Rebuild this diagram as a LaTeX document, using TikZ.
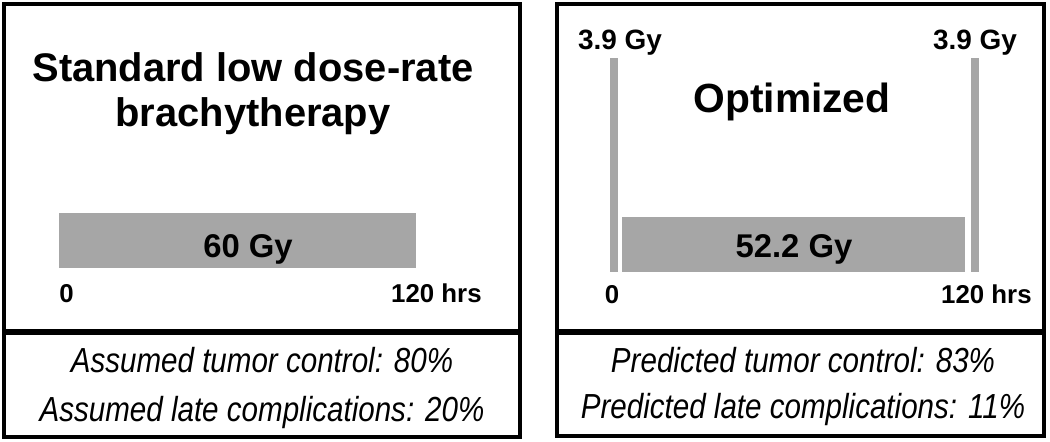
\documentclass[tikz,border=0pt]{standalone}
\usepackage{fontspec}
\setmainfont{Liberation Sans}
\newfontfamily\condfont{Liberation Sans}[FakeStretch=0.85]
\definecolor{DoseGrey}{RGB}{166,166,166}

\begin{document}
\begin{tikzpicture}[x=0.02cm, y=-0.02cm,
    panel/.style={draw, line width=0.08cm},
    dosebar/.style={fill=DoseGrey},
    label/.style={anchor=base, inner sep=0pt},
    title/.style={label, font=\fontsize{22.7}{27}\selectfont\bfseries},
    dose/.style={label, font=\fontsize{18.7}{22}\selectfont\bfseries},
    boost/.style={label, font=\fontsize{15.9}{19}\selectfont\bfseries},
    axis/.style={label, font=\fontsize{14.7}{18}\selectfont\bfseries},
    outcome/.style={label, font=\fontsize{19.8}{23}\condfont\itshape}]
                \useasboundingbox (0,0) rectangle (1050,442);

                % Panels
                \draw[panel] (4,4) rectangle (520,331);
                \draw[panel] (4,333) rectangle (520,437);
                \draw[panel] (557,4) rectangle (1044,331);
                \draw[panel] (557,333) rectangle (1044,436);

                % Dose bars
                \fill[dosebar] (59,213) rectangle (416,268);
                \fill[dosebar] (622,217) rectangle (965,272);
                \fill[dosebar] (610,58) rectangle (618,272);
                \fill[dosebar] (971,58) rectangle (979,272);

                % Standard schedule
                \node[title] (std1) at (253,82) {Standard low dose-rate};
                \node[title] (std2) at (253,127) {brachytherapy};
                \node[dose] (dose60) at (248,257) {60 Gy};
                \node[axis, anchor=base west] (start1) at (59,302) {0};
                \node[axis, anchor=base east] (end1) at (482,302) {120 hrs};
                \node[outcome] (tumor1) at (262,372) {Assumed tumor control: 80\%};
                \node[outcome] (late1) at (262,421) {Assumed late complications: 20\%};

                % Optimized schedule
                \node[boost] (boostL) at (620,50) {3.9 Gy};
                \node[boost] (boostR) at (975,50) {3.9 Gy};
                \node[title, font=\fontsize{23.2}{27}\selectfont\bfseries] (opt) at (792,113) {Optimized};
                \node[dose] (dose52) at (794,257) {52.2 Gy};
                \node[axis] (start2) at (612,303) {0};
                \node[axis, anchor=base east] (end2) at (1032,303) {120 hrs};
                \node[outcome] (tumor2) at (803,372) {Predicted tumor control: 83\%};
                \node[outcome] (late2) at (803,418) {Predicted late complications: 11\%};
            \end{tikzpicture}
\end{document}
